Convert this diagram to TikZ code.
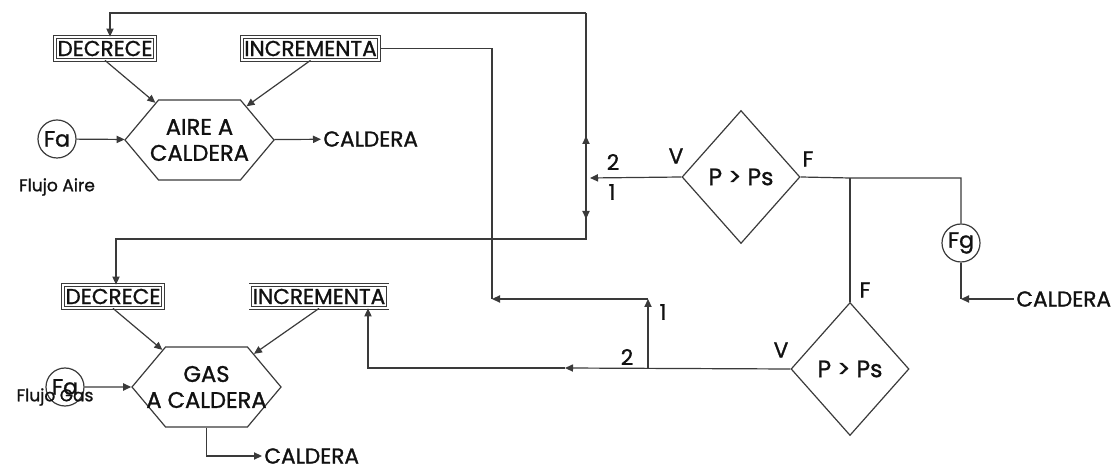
\documentclass[tikz,border=0pt]{standalone}
\usepackage{fontspec}
\setmainfont{Poppins}[BoldFont=Poppins,BoldFeatures={FakeBold=1.2}]
\usetikzlibrary{positioning,arrows.meta,shapes.geometric,shapes.symbols}
\definecolor{cLine}{HTML}{3a3a3a}
\definecolor{cText}{HTML}{111111}
\newcommand{\hexline}[1]{\makebox[38pt]{#1}}

\tikzset{
  flow/.style={draw=cLine,line width=0.6pt},
  tip/.style={-{Triangle[length=4pt,width=3.6pt]}},
  tag/.style={draw=cLine,double,double distance=0.9pt,line width=0.4pt,inner sep=1.2pt,minimum height=11.5pt},
  hexa/.style={signal,signal to=west and east,signal pointer angle=100,draw=cLine,line width=0.6pt,
    minimum width=74.5pt,minimum height=40pt,align=center,inner xsep=1pt,inner ysep=0pt,
    font=\fontsize{11.3}{13}\selectfont\bfseries},
  cmp/.style={diamond,draw=cLine,line width=0.6pt,minimum width=59pt,minimum height=66.5pt,inner sep=0pt,
    font=\fontsize{11.8}{13}\selectfont\bfseries},
  meter/.style={circle,draw=cLine,line width=0.6pt,minimum size=19pt,inner sep=0pt,
    font=\fontsize{11}{12}\selectfont\bfseries},
  note/.style={font=\fontsize{8.5}{9}\selectfont\bfseries},
}

\begin{document}
\begin{tikzpicture}[x=0.5pt,y=-0.5pt,font=\fontsize{10.8}{11}\selectfont\bfseries,text=cText]
        \useasboundingbox (0,0) rectangle (1118,469);
        % aire
        \node[hexa] (aire) at (199.5,140) {\hexline{AIRE A}\\\hexline{CALDERA}};
        \node[tag] (dec1) at (105,48.5) {DECRECE};
        \node[tag] (inc1) at (310.5,48.5) {INCREMENTA};
        \node[meter] (fa1) at (57,139) {Fa};
        \node[note] (flujoA) at (57,187) {Flujo Aire};
        \node[anchor=west,inner sep=1pt] (cal1) at (321,139) {CALDERA};
        % gas
        \node[hexa] (gas) at (206.5,387) {\hexline{GAS}\\\hexline{A CALDERA}};
        \node[tag] (dec2) at (113,296.5) {DECRECE};
        \node[tag] (inc2) at (319,296.5) {INCREMENTA};
        \node[meter] (fa2) at (65,387) {Fa};
        \node[note] (flujoG) at (55,397) {Flujo Gas};
        \node[anchor=west,inner sep=1pt] (cal2) at (262,456) {CALDERA};
        % comparadores
        \node[cmp] (cmpA) at (741,177) {P > Ps};
        \node[cmp] (cmpG) at (850,369) {P > Ps};
        \node[meter] (fg) at (961,243) {Fg};
        \node[anchor=west,inner sep=1pt] (cal3) at (1014,299) {CALDERA};
        \node (v1) at (676,156) {V};
        \node (f1) at (808,159) {F};
        \node (n2a) at (613,162) {2};
        \node (n1a) at (612,192) {1};
        \node (f2) at (865,290) {F};
        \node (v2) at (781,350) {V};
        \node (n2b) at (627,357) {2};
        \node (n1b) at (663,312) {1};
        % puntos de union
        \coordinate (busT) at (586,13);
        \coordinate (busB) at (586,239);
        \coordinate (busM) at (586,178);
        \coordinate (tipA) at (590,178);
        \coordinate (upA) at (586,136);
        \coordinate (dnA) at (586,219);
        \coordinate (jF) at (850,178);
        \coordinate (kG) at (961,299);
        \coordinate (jG) at (648,368);
        \coordinate (midG) at (565,368);
        \coordinate (hookG) at (368,368);
        \coordinate (upG) at (648,299);
        \coordinate (kI) at (492,299);
        % conexiones
        \draw[flow,tip] (fa1) -- (aire);
        \draw[flow,tip] (aire) -- (cal1);
        \draw[flow,tip] (dec1.south) -- (aire);
        \draw[flow,tip] (inc1.south) -- (aire);
        \draw[flow,tip] (fa2) -- (gas);
        \draw[flow,tip] (gas.south) |- (cal2.west);
        \draw[flow,tip] (dec2.south) -- (gas);
        \draw[flow,tip] (inc2.south) -- (gas);
        \draw[flow,tip] (busT) -| ([xshift=2.5pt]dec1.north);
        \draw[flow,tip] (busT) -- (busB) -| ([xshift=1.5pt]dec2.north);
        \draw[flow,tip] (busM) -- (upA);
        \draw[flow,tip] (busM) -- (dnA);
        \draw[flow,tip] (cmpA.west) -- (tipA);
        \draw[flow] (cmpA.east) -- (jF) -| (fg.north);
        \draw[flow] (jF) -- (cmpG.north);
        \draw[flow] (fg.south) -- (kG);
        \draw[flow,tip] (cal3.west) -- (kG);
        \draw[flow,tip] (cmpG.west) -- (midG);
        \draw[flow,tip] (midG) -| (inc2.south -| hookG);
        \draw[flow,tip] (jG) -- (upG);
        \draw[flow,tip] (upG) -- (kI);
        \draw[flow] (kI) |- (inc1.east);
      \end{tikzpicture}
\end{document}
